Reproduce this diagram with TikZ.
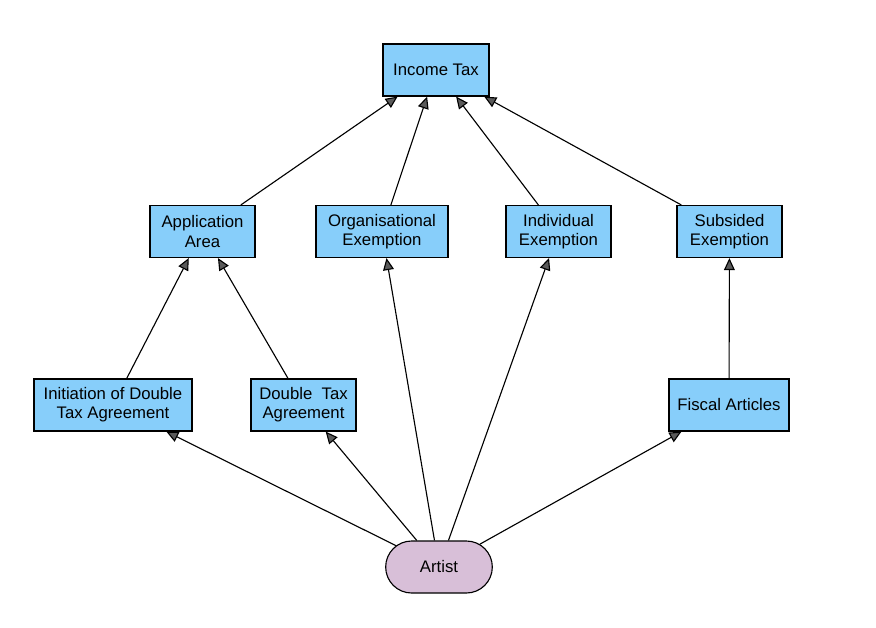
\documentclass[tikz,border=0pt]{standalone}
\usepackage{fontspec}
\setmainfont{Liberation Sans}
\usetikzlibrary{arrows.meta,shapes.misc}
\definecolor{boxblue}{HTML}{87CEFA}
\definecolor{artistpink}{HTML}{D8BFD8}
\definecolor{tipgray}{HTML}{5A5A5A}
\begin{document}
\begin{tikzpicture}[x=0.025cm,y=-0.025cm,
    box/.style={draw,thick,fill=boxblue,align=center,minimum height=1.3cm,inner sep=1pt,
      font=\fontsize{11.9}{13.6}\selectfont},
    artist/.style={draw,thick,fill=artistpink,rounded rectangle,minimum width=2.9cm,
      minimum height=1.3cm,font=\fontsize{11.9}{13.6}\selectfont},
    link/.style={-{Triangle[length=0.3cm,width=0.27cm,fill=tipgray]},line width=0.8pt}]
    %myborder
    \useasboundingbox (0,0) rectangle (876,627);

    %top
    \node[box,minimum width=2.65cm] (income) at (436,70) {Income Tax};

    %middle row
    \node[box,minimum width=2.625cm] (apparea) at (202.5,231.5) {Application\\Area};
    \node[box,minimum width=3.3cm] (orgex) at (382,231.5) {Organisational\\Exemption};
    \node[box,minimum width=2.625cm] (indivex) at (558.5,231.5) {Individual\\Exemption};
    \node[box,minimum width=2.625cm] (subsex) at (729.5,231.5) {Subsided\\Exemption};

    %lower row
    \node[box,minimum width=3.95cm] (initdta) at (113,405) {Initiation of Double\\Tax Agreement};
    \node[box,minimum width=2.625cm] (dta) at (303.5,405) {Double~ Tax\\Agreement};
    \node[box,minimum width=3cm] (fiscal) at (729,405) {Fiscal Articles};

    %bottom
    \node[artist] (artist) at (439,567) {Artist};

    %links
    \draw[link] (apparea) -- (income);
    \draw[link] (orgex) -- (income);
    \draw[link] (indivex) -- (income);
    \draw[link] (subsex) -- (income);
    \draw[link] (initdta) -- (apparea);
    \draw[link] (dta) -- (apparea);
    \draw[link] (fiscal) -- (subsex);
    \draw[link] (artist) -- (initdta);
    \draw[link] (artist) -- (dta);
    \draw[link] (artist) -- (orgex);
    \draw[link] (artist) -- (indivex);
    \draw[link] (artist) -- (fiscal);
  \end{tikzpicture}
\end{document}
